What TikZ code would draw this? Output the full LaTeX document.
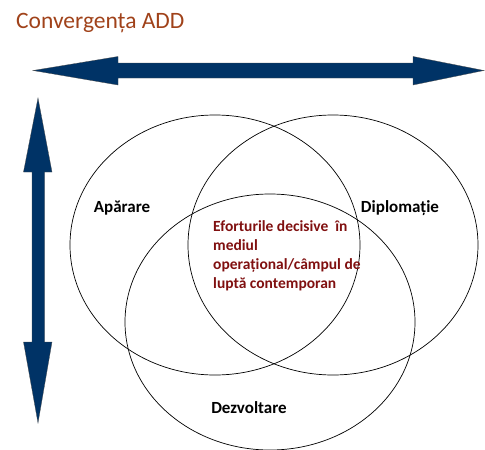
\documentclass[tikz,border=0pt]{standalone}
\usepackage{fontspec}
\setmainfont{Carlito}
\usepackage{xcolor}
\usetikzlibrary{shapes.geometric}
\definecolor{sageata}{RGB}{0,51,102}
\definecolor{titluculoare}{RGB}{160,66,26}
\definecolor{rosuinchis}{RGB}{128,16,16}

\begin{document}
\begin{tikzpicture}[x=1pt,y=-1pt,every node/.style={inner sep=0pt,align=left},
    cerc/.style={draw,ellipse,line width=0.7pt,minimum width=290pt,minimum height=260pt},
    eticheta/.style={font=\fontsize{17}{19}\selectfont\bfseries}]
  \useasboundingbox (0,0) rectangle (485,450);
  \node[anchor=base west,text=titluculoare,font=\fontsize{23.5}{26}\selectfont] (titlu) at (16,28) {Convergența ADD};
  % sagetile
  \fill[sageata,draw=black!70,line width=0.3pt] (33,70.5) -- (118,56.5) -- (118,63) -- (413,63) -- (413,56.5) -- (484,70.5) -- (413,85) -- (413,78) -- (118,78) -- (118,85) -- cycle;
  \fill[sageata,draw=black!70,line width=0.3pt] (38,98) -- (52,172) -- (44.5,172) -- (44.5,342) -- (52,342) -- (38,423) -- (23.5,342) -- (32,342) -- (32,172) -- (23.5,172) -- cycle;
  % cercurile
  \node[cerc] (aparare) at (215,245) {};
  \node[cerc] (diplomatie) at (333,245) {};
  \node[cerc,minimum height=256pt] (dezvoltare) at (270,322) {};
  \node[eticheta] (apar) at (122,208) {Apărare};
  \node[eticheta] (diplo) at (400,208) {Diplomație};
  \node[eticheta] (dezv) at (249,408) {Dezvoltare};
  \node[anchor=north west,text=rosuinchis,font=\fontsize{15.5}{19}\selectfont\bfseries] (efort) at (213,220)
    {Eforturile decisive\ \ în\\ mediul\\ operațional/câmpul de\\ luptă contemporan};
\end{tikzpicture}
\end{document}
